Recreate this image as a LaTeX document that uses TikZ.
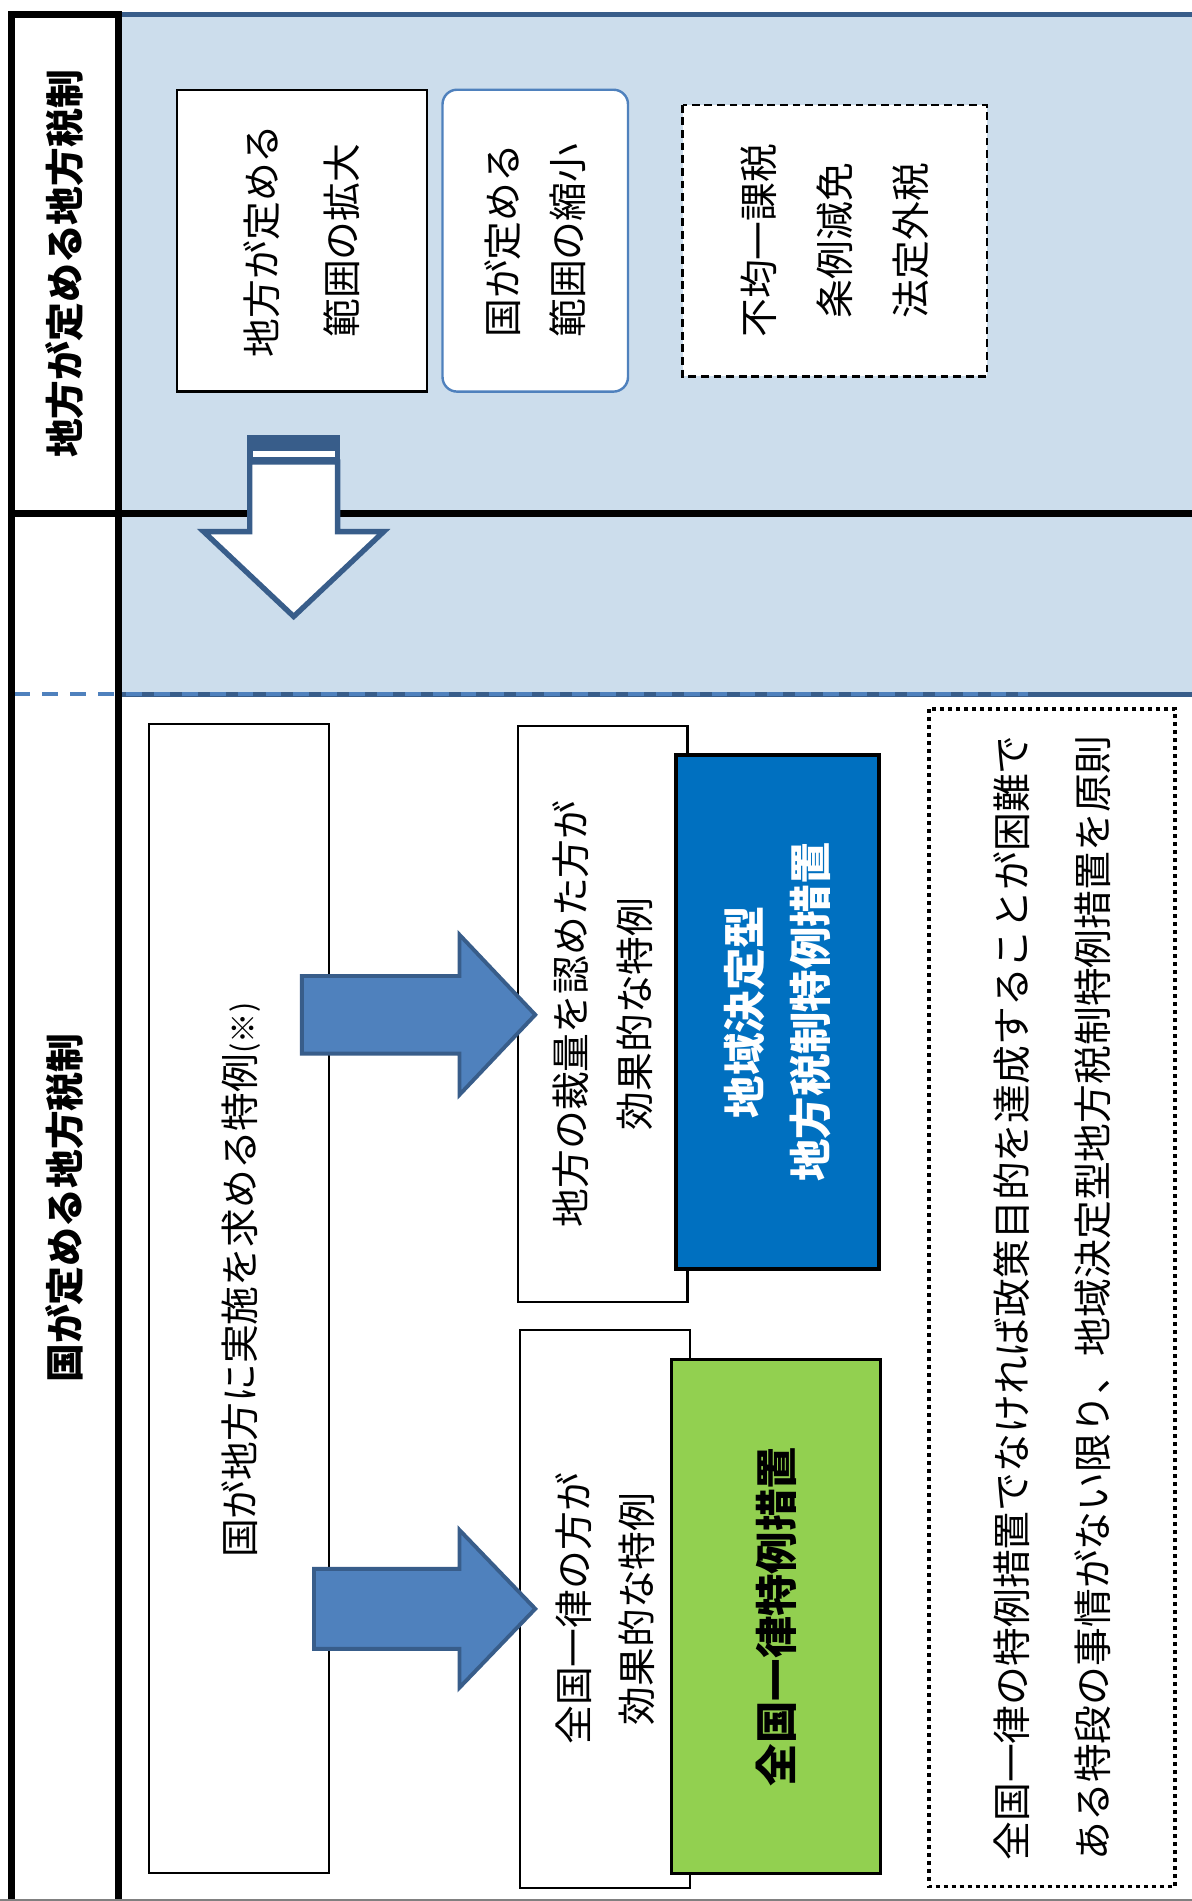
\documentclass[tikz,border=0pt]{standalone}
\usepackage{fontspec}
\setmainfont{Noto Sans CJK JP}[Kerning=Off]
\newfontfamily\heavyjp{Noto Sans CJK JP Black}[Kerning=Off]
\definecolor{bgblue}{HTML}{CCDDEC}
\definecolor{darkblue}{HTML}{385D8A}
\definecolor{accent}{HTML}{4F81BD}
\definecolor{boxblue}{HTML}{0070C0}
\definecolor{boxgreen}{HTML}{92D050}
\begin{document}
\begin{tikzpicture}[x=0.5pt,y=-0.5pt,
  txt/.style={inner sep=0pt, outer sep=0pt, rotate=90, align=center},
  jp/.style={font=\fontsize{16}{#1}\selectfont},
  jpb/.style={font=\heavyjp\fontsize{17.5}{#1}\selectfont},
  wbox/.style={txt, draw=black, fill=white, line width=0.8pt},
  blk/.style={line width=2.8pt, black, line cap=rect},
  bluearrow/.style={fill=accent, draw=darkblue, line width=1.6pt, line join=miter},
]
% canvas
\fill[white] (0,0) rectangle (983,1568);
\useasboundingbox (0,0) rectangle (983,1568);

% blue region
\fill[bgblue] (98,11.7) rectangle (983,572.6);
\draw[darkblue, line width=2pt] (98,11.7) -- (983,11.7);
\draw[darkblue, line width=2pt] (98,572.6) -- (983,572.6);
\draw[accent, line width=1.8pt, dash pattern=on 6.5pt off 5pt] (12,572.6) -- (848,572.6);

% frame lines
\draw[blk] (9.2,1568) -- (9.2,12) -- (98,12) -- (98,1568);
\draw[blk] (9.2,423.3) -- (983,423.3);
\draw[gray, line width=0.6pt] (0,1567) -- (983,1567);

% left labels
\node[txt, font=\bfseries\fontsize{16}{20}\selectfont] (lab1) at (53.6,217.7) {地方が定める地方税制};
\node[txt, font=\bfseries\fontsize{16}{20}\selectfont] (lab2) at (53.6,996.5) {国が定める地方税制};

% top boxes
\node[wbox, line width=1pt, minimum width=124.5pt, minimum height=103pt, jp=33] (kakudai) at (249,198.5) {地方が定める\\範囲の拡大};
\node[wbox, draw=accent, line width=1pt, rounded corners=6pt, minimum width=124.5pt, minimum height=76.5pt, jp=27] (shukusho) at (441.5,198.5) {国が定める\\範囲の縮小};
\node[wbox, line width=1pt, dash pattern=on 3.2pt off 2pt, minimum width=112pt, minimum height=125.5pt, jp=31.5] (kazei) at (688.5,198.5) {不均一課税\\条例減免\\法定外税};

% striped down arrow
\fill[darkblue] (204,358.7) rectangle (280.5,381);
\fill[white] (208.4,372) rectangle (276.3,376.6);
\draw[darkblue, fill=white, line width=2.2pt, line join=miter]
  (206,381) -- (206,438.5) -- (168,438.5) -- (242.25,508.5) -- (316.5,438.5) -- (278.5,438.5) -- (278.5,381) -- cycle;

% bottom boxes
\node[wbox, minimum width=474pt, minimum height=74pt] (youkyu) at (197,1071) {};
\node[txt, jp=20] (youkyutxt) at (199,1056) {国が地方に実施を求める特例{\fontsize{12.5}{12.5}\selectfont(※)}};
\node[wbox, line width=0.9pt, minimum width=237.3pt, minimum height=70pt, jp=26.5] (sairyou) at (497,836.3) {地方の裁量を認めた方が\\効果的な特例};
\node[wbox, line width=0.9pt, minimum width=230pt, minimum height=70pt, jp=26] (ichiritsu) at (499,1327) {全国一律の方が\\効果的な特例};
\node[txt, draw=black, fill=boxblue, text=white, line width=1.5pt, minimum width=211.75pt, minimum height=83.7pt, jpb=27.5] (chiiki) at (641.3,834.75) {地域決定型\\地方税制特例措置};
\node[txt, draw=black, fill=boxgreen, text=black, line width=1.2pt, minimum width=211.7pt, minimum height=86pt, jpb=20] (zenkoku) at (640,1333.3) {全国一律特例措置};
\node[txt, draw=black, fill=white, line width=1.6pt, dash pattern=on 1.6pt off 1.7pt, minimum width=485.5pt, minimum height=101.75pt, jp=33.5] (gensoku) at (867.75,1070.5) {全国一律の特例措置でなければ政策目的を達成することが困難で\\ある特段の事情がない限り、地域決定型地方税制特例措置を原則};

% block arrows
\draw[bluearrow] (249,805) -- (379,805) -- (379,771) -- (441.5,837) -- (379,903) -- (379,869) -- (249,869) -- cycle;
\draw[bluearrow] (259,1294) -- (379,1294) -- (379,1262) -- (441.5,1327) -- (379,1392) -- (379,1360) -- (259,1360) -- cycle;
\end{tikzpicture}
\end{document}
